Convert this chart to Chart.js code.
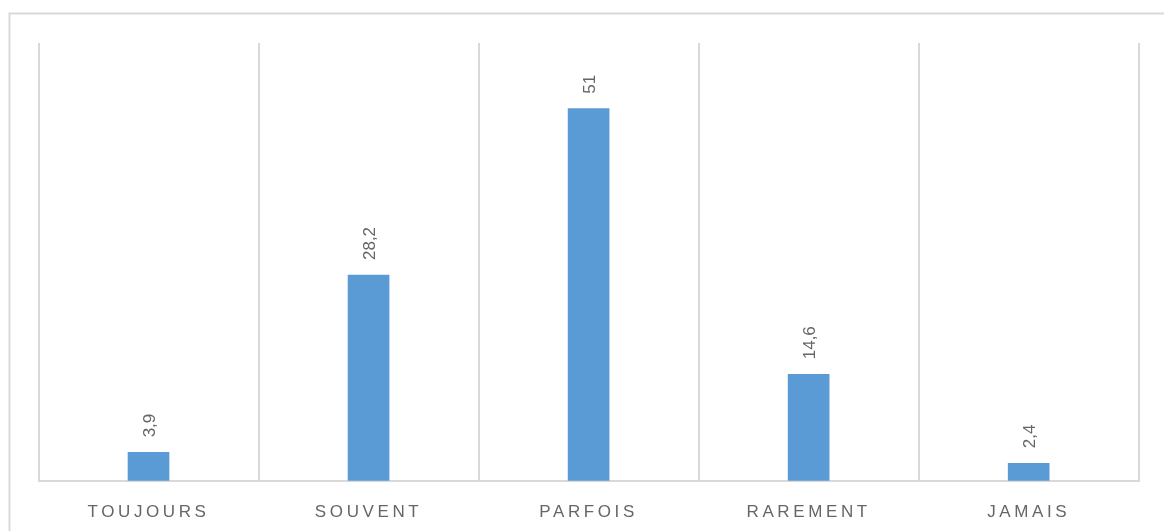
<!DOCTYPE html>
<html lang="fr">
<head>
  <meta charset="UTF-8" />
  <title>Fréquence</title>
  <script src="https://cdn.jsdelivr.net/npm/chart.js"></script>
  <style>
    body {
      margin: 0;
      background: #ffffff;
    }
    #wrap {
      width: 1164px;
      height: 531px;
      position: relative;
    }
  </style>
</head>
<body>
  <div id="wrap">
    <canvas id="freqChart" width="1164" height="531"></canvas>
  </div>

  <script>
    const categories = ['TOUJOURS', 'SOUVENT', 'PARFOIS', 'RAREMENT', 'JAMAIS'];
    const values = [3.9, 28.2, 51, 14.6, 2.4];
    const yMin = 0;
    const yMax = 60;

    const lineGrey = '#d9d9d9';
    const textGrey = '#666666';
    const barBlue = '#5b9bd5';
    const fontFamily = '"Liberation Sans", Arial, sans-serif';

    // frame around the whole chart (only top and left edges fall inside the canvas)
    const framePlugin = {
      id: 'frame',
      beforeDraw(chart) {
        const ctx = chart.ctx;
        ctx.save();
        ctx.strokeStyle = lineGrey;
        ctx.lineWidth = 2;
        ctx.beginPath();
        ctx.moveTo(9.5, chart.height);
        ctx.lineTo(9.5, 13.5);
        ctx.lineTo(chart.width, 13.5);
        ctx.stroke();
        ctx.restore();
        // spaced-out category labels on the x axis
        ctx.letterSpacing = '3.6px';
      },
      beforeDatasetsDraw(chart) {
        chart.ctx.letterSpacing = '0px';
      }
    };

    // vertical value labels above each bar
    const valueLabels = {
      id: 'valueLabels',
      afterDatasetsDraw(chart) {
        const ctx = chart.ctx;
        const meta = chart.getDatasetMeta(0);
        ctx.save();
        ctx.letterSpacing = '0px';
        ctx.font = '17px ' + fontFamily;
        ctx.fillStyle = textGrey;
        ctx.textAlign = 'left';
        ctx.textBaseline = 'alphabetic';
        meta.data.forEach((bar, i) => {
          const text = String(values[i]).replace('.', ',');
          ctx.save();
          ctx.translate(bar.x + 6.1, bar.y - 15);
          ctx.rotate(-Math.PI / 2);
          ctx.fillText(text, 0, 0);
          ctx.restore();
        });
        ctx.restore();
      }
    };

    new Chart(document.getElementById('freqChart'), {
      type: 'bar',
      data: {
        labels: categories,
        datasets: [{
          data: values,
          backgroundColor: barBlue,
          borderWidth: 0,
          barThickness: 41
        }]
      },
      options: {
        responsive: false,
        animation: false,
        layout: {
          padding: { top: 43, left: 38.5, right: 25.3, bottom: -12.2 }
        },
        plugins: {
          legend: { display: false },
          tooltip: { enabled: false }
        },
        scales: {
          x: {
            offset: true,
            grid: {
              offset: true,
              color: lineGrey,
              lineWidth: 2,
              drawTicks: false
            },
            border: {
              display: true,
              color: lineGrey,
              width: 2
            },
            ticks: {
              color: textGrey,
              padding: 21,
              font: { family: fontFamily, size: 17 }
            }
          },
          y: {
            display: false,
            min: yMin,
            max: yMax
          }
        }
      },
      plugins: [framePlugin, valueLabels]
    });
  </script>
</body>
</html>
